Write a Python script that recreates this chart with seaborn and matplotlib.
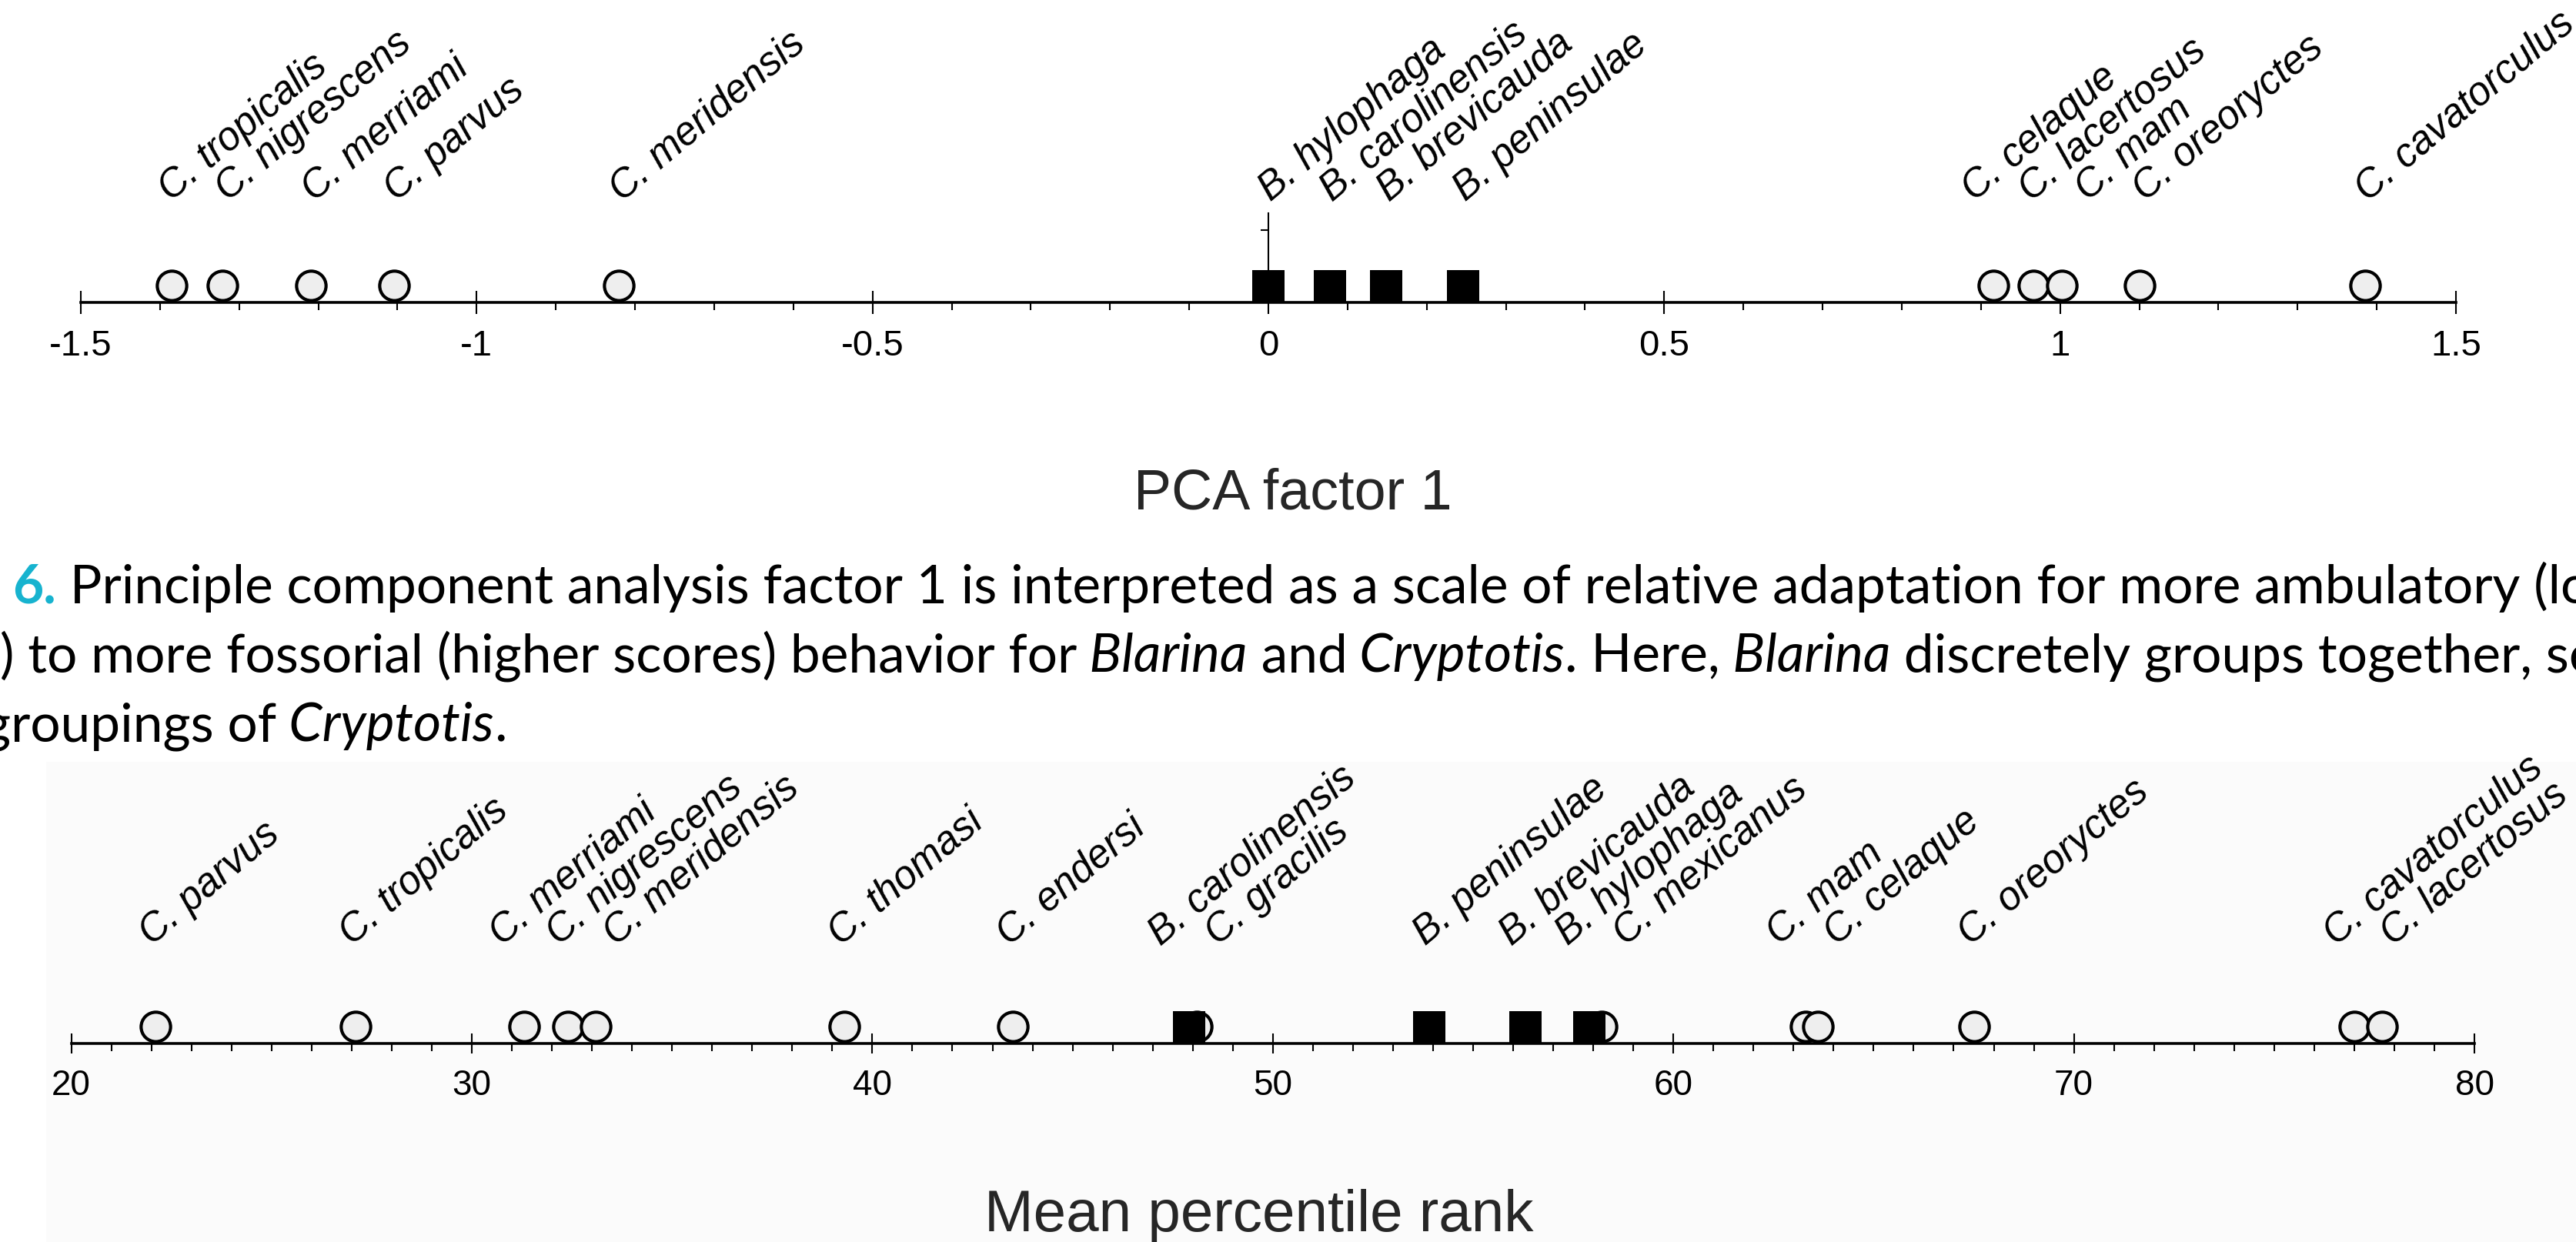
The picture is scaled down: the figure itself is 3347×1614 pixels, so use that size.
import numpy as np
import pandas as pd
import matplotlib
matplotlib.use("Agg")
import matplotlib.pyplot as plt
import seaborn as sns
from matplotlib.transforms import IdentityTransform
from matplotlib.patches import Rectangle

# ---------------- data ----------------
pca_c_names = ["C. tropicalis", "C. nigrescens", "C. merriami", "C. parvus", "C. meridensis",
               "C. celaque", "C. lacertosus", "C. mam", "C. oreoryctes", "C. cavatorculus"]
pca_c_vals = [-1.385, -1.321, -1.209, -1.104, -0.820, 0.916, 0.966, 1.002, 1.100, 1.385]
pca_b_names = ["B. hylophaga", "B. carolinensis", "B. brevicauda", "B. peninsulae"]
pca_b_vals = [0.0, 0.078, 0.149, 0.246]
pca_ticks = [-1.5, -1.0, -0.5, 0.0, 0.5, 1.0, 1.5]
pca_tick_labels = ["-1.5", "-1", "-0.5", "0", "0.5", "1", "1.5"]

rank_c_names = ["C. parvus", "C. tropicalis", "C. merriami", "C. nigrescens", "C. meridensis",
                "C. thomasi", "C. endersi", "C. gracilis", "C. mexicanus", "C. mam",
                "C. celaque", "C. oreoryctes", "C. cavatorculus", "C. lacertosus"]
rank_c_vals = [22.1, 27.1, 31.3, 32.4, 33.1, 39.3, 43.5, 48.1, 58.2, 63.3, 63.6, 67.5, 77.0, 77.7]
rank_b_names = ["B. carolinensis", "B. peninsulae", "B. brevicauda", "B. hylophaga"]
rank_b_vals = [47.9, 53.9, 56.3, 57.9]
rank_ticks = [20, 30, 40, 50, 60, 70, 80]
rank_tick_labels = ["20", "30", "40", "50", "60", "70", "80"]

caption_line1 = [("6.", "num"), (" Principle component analysis factor 1 is interpreted as a scale of relative adaptation for more ambulatory (lower scores", "n")]
caption_line2 = [(") to more fossorial (higher scores) behavior for", "n"), (" Blarina", "i"), (" and", "n"),
                 (" Cryptotis", "i"), (". Here,", "n"), (" Blarina", "i"),
                 (" discretely groups together, separate from", "n")]
caption_line3 = [("groupings of", "n"), (" Cryptotis", "i"), (".", "n")]

# ---------------- style ----------------
W, H = 3347, 1614
sns.set_style("white")
plt.rcParams['font.family'] = ['Liberation Sans', 'DejaVu Sans']
plt.rcParams['axes.edgecolor'] = 'black'
plt.rcParams['xtick.color'] = 'black'
plt.rcParams['ytick.color'] = 'black'

fig = plt.figure(figsize=(W / 100, H / 100), dpi=100)
fig.patch.set_facecolor('white')
fig.patches.append(Rectangle((60 / W, 0), (W - 60) / W, (H - 990) / H, transform=fig.transFigure,
                             facecolor='#fbfbfb', edgecolor='none', zorder=-10))
renderer = fig.canvas.get_renderer()

ROT = 40
LABEL_FS = 37
CIRCLE_FILL = '#eeeeee'


def spread(xs, gap):
    """1D label repel: keep label anchors at least `gap` pixels apart."""
    order = np.argsort(xs)
    desired = np.asarray(xs, float)[order]
    clusters = [[i] for i in range(len(desired))]
    changed = True
    while changed:
        changed = False
        starts = []
        for c in clusters:
            m = np.mean([desired[i] for i in c])
            starts.append(m - gap * (len(c) - 1) / 2)
        for k in range(len(clusters) - 1):
            end_k = starts[k] + gap * (len(clusters[k]) - 1)
            if starts[k + 1] - end_k < gap:
                clusters[k] = clusters[k] + clusters[k + 1]
                del clusters[k + 1]
                changed = True
                break
    out = np.empty(len(desired))
    for c in clusters:
        m = np.mean([desired[i] for i in c])
        s0 = m - gap * (len(c) - 1) / 2
        for j, i in enumerate(c):
            out[order[i]] = s0 + j * gap
    return out


def panel(left, right, axis_y, top_y, xlim, ticks, tick_labels, minor, major_len, tick_fs, pad,
          c_names, c_vals, b_names, b_vals, circ_y, sq_y, label_y, label_dx, gap, zero_spine=None):
    ax = fig.add_axes([left / W, 1 - axis_y / H, (right - left) / W, (axis_y - top_y) / H])
    ax.patch.set_alpha(0)
    ax.set_xlim(*xlim)
    ax.set_ylim(0, axis_y - top_y)
    for s in ['top', 'right', 'left']:
        ax.spines[s].set_visible(False)
    ax.spines['bottom'].set_bounds(*xlim)
    ax.spines['bottom'].set_linewidth(2.6)
    ax.spines['bottom'].set_color('black')
    ax.set_xticks(ticks)
    ax.set_xticklabels(tick_labels)
    ax.set_xticks(minor, minor=True)
    ax.tick_params(axis='x', which='major', direction='inout', length=major_len, width=1.5,
                   pad=pad, labelsize=tick_fs, bottom=True)
    ax.tick_params(axis='x', which='minor', direction='out', length=7, width=1.5, bottom=True)
    ax.set_yticks([])
    if zero_spine is not None:
        sp = ax.spines['left']
        sp.set_visible(True)
        sp.set_position(('data', 0))
        sp.set_bounds(0, zero_spine[0])
        sp.set_linewidth(1.5)
        ax.set_yticks([zero_spine[1]])
        ax.set_yticklabels([''])
        ax.tick_params(axis='y', direction='out', length=7, width=1.5, left=True)

    cdf = pd.DataFrame({'x': c_vals, 'y': np.full(len(c_vals), circ_y)})
    bdf = pd.DataFrame({'x': b_vals, 'y': np.full(len(b_vals), sq_y)})
    sns.scatterplot(data=cdf, x='x', y='y', ax=ax, marker='o', s=760, color=CIRCLE_FILL,
                    edgecolor='black', linewidth=3.0, zorder=3, legend=False)
    sns.scatterplot(data=bdf, x='x', y='y', ax=ax, marker='s', s=920, color='black',
                    edgecolor='black', linewidth=0, zorder=4, legend=False)
    ax.set_xlabel('')
    ax.set_ylabel('')

    names = list(c_names) + list(b_names)
    vals = list(c_vals) + list(b_vals)
    xs_px = ax.transData.transform(np.column_stack([vals, np.zeros(len(vals))]))[:, 0]
    lab_px = spread(xs_px + label_dx, gap)
    for nm, lx in zip(names, lab_px):
        fig.text(lx, H - label_y, nm, transform=IdentityTransform(), rotation=ROT,
                 rotation_mode='anchor', ha='left', va='baseline', fontsize=LABEL_FS,
                 style='italic', color='black')
    return ax


# Top panel: PCA factor 1
panel(105, 3191, 393, 0, (-1.5, 1.5), pca_ticks, pca_tick_labels,
      np.round(np.arange(-1.5, 1.5001, 0.1), 2), 21, 34, 15,
      pca_c_names, pca_c_vals, pca_b_names, pca_b_vals,
      circ_y=22, sq_y=21, label_y=263, label_dx=3, gap=74, zero_spine=(116, 94))
fig.text(1680 / W, 1 - 661 / H, "PCA factor 1", ha='center', va='baseline', fontsize=53)

# Bottom panel: Mean percentile rank
panel(92.6, 3215, 1356, 990, (20, 80), rank_ticks, rank_tick_labels,
      np.arange(20, 81, 1), 19, 33, 14,
      rank_c_names, rank_c_vals, rank_b_names, rank_b_vals,
      circ_y=22, sq_y=21.5, label_y=1230, label_dx=-5, gap=74)
fig.text(1636 / W, 1 - 1600 / H, "Mean percentile rank", ha='center', va='baseline', fontsize=55)

# ---------------- caption ----------------
CAP_FONT = ['Lato', 'DejaVu Sans']
probe = fig.text(0, 0, "Principle component analysis factor 1 is interpreted as a scale of relative adaptation for more ambulatory",
                 fontsize=50, family=CAP_FONT)
pw = probe.get_window_extent(renderer).width
probe.remove()
cap_fs = 50 * 3150 / pw * 1.012

styles = {
    'n': dict(color='black'),
    'i': dict(color='black', style='italic'),
    'num': dict(color='#17b3cf', weight='bold'),
}


def draw_line(pieces, x0, base_y):
    x = x0
    for txt, st in pieces:
        t = fig.text(x, H - base_y, txt, transform=IdentityTransform(), ha='left', va='baseline',
                     fontsize=cap_fs, family=CAP_FONT, **styles[st])
        x += t.get_window_extent(renderer).width


draw_line(caption_line1, 16, 784)
draw_line(caption_line2, 0, 873)
draw_line(caption_line3, -22, 963)

fig.savefig("out.png", dpi=100, facecolor='white')
